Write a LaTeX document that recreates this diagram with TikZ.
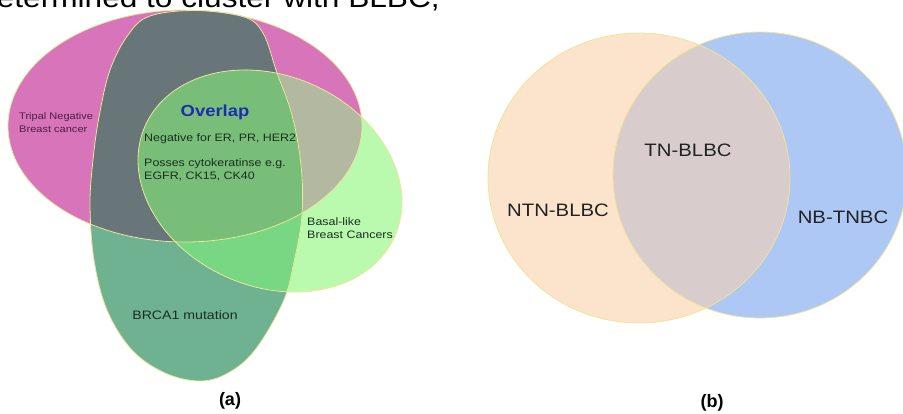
\documentclass[tikz,border=0pt]{standalone}
\usepackage{fontspec}
\setmainfont{Liberation Sans}
\definecolor{pinkset}{HTML}{D874BA}
\definecolor{greyset}{HTML}{68767A}
\definecolor{brcaset}{HTML}{6EB291}
\definecolor{basalset}{HTML}{B9FAAF}
\definecolor{pinkbasal}{HTML}{B2B9A0}
\definecolor{allthree}{HTML}{78BE78}
\definecolor{brcabasal}{HTML}{78D782}
\definecolor{peachset}{HTML}{FCE4CC}
\definecolor{blueset}{HTML}{AEC8F5}
\definecolor{midset}{HTML}{D8CCCC}
\definecolor{rimyellow}{HTML}{EDE59A}
\definecolor{purpletext}{HTML}{4A2046}
\definecolor{greentext}{HTML}{1B2E1D}
\definecolor{overlapblue}{HTML}{1C2DB5}
\definecolor{darktext}{HTML}{222222}
\def\pinkpath{(185,126) ellipse [x radius=177, y radius=116]}
\def\basalpath{(270,181) ellipse [x radius=136.5, y radius=105.4, rotate=-23.7]}
\def\brcapath{plot[smooth cycle, tension=0.6] coordinates {(196,10.5) (243,16.5) (263,33) (277,73) (292,115) (301,165) (302,215) (294,262) (283,302) (255,350) (228,373) (200,381) (165,373) (132,350) (107,310) (94,260) (90,205) (93,160) (99,117) (110,70) (128,35) (150,16)}}
\begin{document}
\begin{tikzpicture}[x=1pt,y=-1pt,
    rim/.style={draw=rimyellow,line width=0.8pt},
    lbl/.style={inner sep=0pt,xscale=1.15,align=left,text=greentext},
    blbl/.style={inner sep=0pt,xscale=1.13,text=darktext,font=\fontsize{18}{20}\selectfont},
    captionlbl/.style={inner sep=0pt,font=\bfseries\fontsize{18}{20}\selectfont}]
\useasboundingbox (0,0) rectangle (903,413);
\clip (0,0) rectangle (903,413);
\node[anchor=base west,inner sep=0pt,xscale=1.15,font=\fontsize{27.5}{30}\selectfont] (head) at (-21,7) {determined to cluster with BLBC,};
% (a)
\fill[pinkset] \pinkpath;
\fill[basalset] \basalpath;
\fill[brcaset] \brcapath;
\begin{scope}
  \clip \pinkpath;
  \fill[pinkbasal] \basalpath;
  \fill[greyset] \brcapath;
\end{scope}
\begin{scope}
  \clip \basalpath;
  \fill[brcabasal] \brcapath;
  \clip \pinkpath;
  \fill[allthree] \brcapath;
\end{scope}
\draw[rim] \pinkpath;
\draw[rim] \brcapath;
\draw[rim] \basalpath;
\node[lbl,anchor=west,text=purpletext,font=\fontsize{9.6}{13}\selectfont] (tnbc) at (19,123) {Tripal Negative\\Breast cancer};
\node[inner sep=0pt,xscale=1.15,text=overlapblue,font=\bfseries\fontsize{16}{18}\selectfont] (overlap) at (215,112) {Overlap};
\node[lbl,anchor=west,font=\fontsize{10.8}{13}\selectfont] (neg) at (144,139) {Negative for ER, PR, HER2};
\node[lbl,anchor=west,font=\fontsize{10.8}{13}\selectfont] (ck) at (144,169.5) {Posses cytokeratinse e.g.\\EGFR, CK15, CK40};
\node[lbl,anchor=west,font=\fontsize{10.8}{13}\selectfont] (basal) at (307,228.5) {Basal-like\\Breast Cancers};
\node[lbl,font=\fontsize{12.3}{14}\selectfont] (brca) at (185,315) {BRCA1 mutation};
\node[captionlbl] (capa) at (230,401) {(a)};
% (b)
\fill[peachset] (639,178) ellipse [x radius=151, y radius=145];
\fill[blueset] (760,175) ellipse [x radius=147, y radius=143];
\begin{scope}
  \clip (639,178) ellipse [x radius=151, y radius=145];
  \fill[midset] (760,175) ellipse [x radius=147, y radius=143];
\end{scope}
\draw[rim] (639,178) ellipse [x radius=151, y radius=145];
\draw[rim] (760,175) ellipse [x radius=147, y radius=143];
\node[blbl] (tn) at (688,150) {TN-BLBC};
\node[blbl] (ntn) at (558,210) {NTN-BLBC};
\node[blbl] (nb) at (843,217) {NB-TNBC};
\node[captionlbl] (capb) at (712,403) {(b)};
\end{tikzpicture}
\end{document}
